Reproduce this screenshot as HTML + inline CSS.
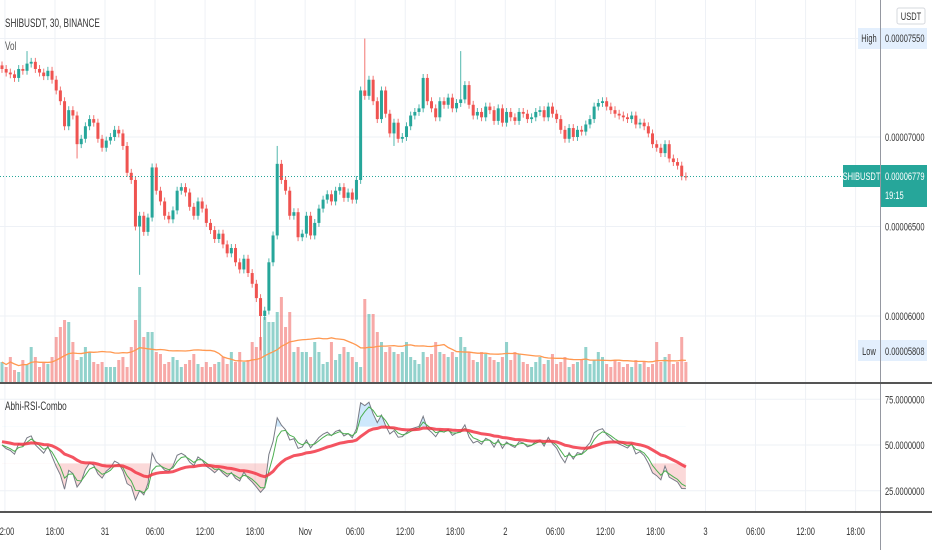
<!DOCTYPE html>
<html><head><meta charset="utf-8"><style>
body{margin:0;background:#fff;}
svg{display:block;font-family:"Liberation Sans",sans-serif;}
</style></head><body>
<svg id="chart" width="932" height="550" viewBox="0 0 932 550">
<g id="grid"></g>
<g id="vol"></g>
<g id="candles"></g>
<g id="rsi"></g>
<g id="axes"></g>
<g id="tags">
<rect x="897" y="8" width="28" height="16" rx="2" fill="#fff" stroke="#d6d8de"/>
<text class="cond" x="911" y="20" font-size="11" fill="#333" text-anchor="middle">USDT</text>
<rect x="858" y="28" width="22" height="21" fill="#e3effd"/>
<text class="cond" x="869" y="42" font-size="11" fill="#333" text-anchor="middle">High</text>
<rect x="881" y="28" width="46" height="21" fill="#e3effd"/>
<text class="cond" x="885" y="42" font-size="11" fill="#333">0.00007550</text>
<rect x="843" y="165" width="37" height="22" fill="#26a69a"/>
<text class="cond" x="861.5" y="180" font-size="11" fill="#fff" text-anchor="middle">SHIBUSDT</text>
<rect x="881" y="165" width="46" height="42" fill="#26a69a"/>
<text class="cond" x="885" y="180" font-size="11" fill="#fff">0.00006779</text>
<text class="cond" x="885" y="199" font-size="11" fill="#fff">19:15</text>
<rect x="858" y="340" width="22" height="21" fill="#e3effd"/>
<text class="cond" x="869" y="355" font-size="11" fill="#333" text-anchor="middle">Low</text>
<rect x="881" y="340" width="46" height="21" fill="#e3effd"/>
<text class="cond" x="885" y="355" font-size="11" fill="#333">0.00005808</text>
<text class="cond" x="5" y="27" font-size="12" fill="#333">SHIBUSDT, 30, BINANCE</text>
<text class="cond" x="5" y="50" font-size="12" fill="#555">Vol</text>
<text class="cond" x="5" y="410" font-size="12" fill="#333">Abhi-RSI-Combo</text>
</g>
</svg>
<script>
const closes=[7380,7360,7350,7330,7380,7370,7410,7420,7380,7360,7340,7370,
7320,7260,7200,7060,7150,7120,6960,6990,7060,7100,7080,6990,
6940,6980,7000,7040,7020,6950,6800,6760,6500,6560,6470,6550,
6830,6700,6640,6560,6540,6590,6700,6720,6690,6610,6560,6640,
6600,6520,6480,6430,6460,6400,6350,6380,6300,6260,6320,6240,
6180,6100,6000,6030,6300,6450,6850,6760,6700,6560,6580,6440,
6460,6560,6450,6520,6600,6650,6680,6640,6700,6720,6660,6690,
6650,6760,7260,7230,7320,7200,7100,7260,7130,7020,7080,6990,
7000,7060,7120,7140,7160,7330,7200,7160,7110,7200,7180,7220,
7160,7190,7210,7290,7180,7120,7140,7110,7170,7150,7090,7160,
7080,7140,7110,7090,7140,7130,7100,7110,7140,7150,7110,7170,
7130,7100,7040,6990,7050,7000,7040,7030,7070,7100,7170,7190,
7200,7170,7150,7130,7120,7110,7100,7120,7070,7080,7060,7020,
6960,6940,6910,6960,6880,6860,6840,6780,6779];
const volumes=[20,15,25,12,10,22,18,35,25,15,20,18,
25,45,55,62,60,40,22,25,35,30,20,18,
20,15,15,15,22,25,15,35,62,95,45,50,
50,30,28,18,20,25,22,15,18,22,28,18,
15,20,15,18,20,25,18,30,20,30,20,22,
40,35,45,65,60,60,70,85,55,70,30,35,
30,30,25,40,30,18,20,40,22,28,35,30,
25,20,15,83,68,68,50,40,30,35,30,28,
30,40,25,22,18,30,25,28,40,30,28,25,
30,25,45,35,30,22,20,30,28,25,22,20,
25,40,22,30,28,20,18,15,20,25,18,22,
28,18,20,25,15,18,20,22,35,18,22,30,
25,18,15,22,20,15,18,15,22,18,20,15,
18,40,20,25,28,18,20,45,20];
const wickSpikesHigh={87:7550,110:7480,6:7480,66:6950};
const wickSpikesLow={33:6230,62:5808,18:6880,94:6950};
const timeLabels=["12:00","18:00","31","06:00","12:00","18:00","Nov","06:00","12:00","18:00","2","06:00","12:00","18:00","3","06:00","12:00","18:00"];
const priceTicks=[7000,6500,6000];
const rsiTicks=[75,50,25];

const NS="http://www.w3.org/2000/svg";
function mk(tag,attrs,parent,txt){const e=document.createElementNS(NS,tag);for(const k in attrs)e.setAttribute(k,attrs[k]);if(txt!==undefined)e.textContent=txt;parent.appendChild(e);return e;}
const X=i=>2+i*4.17;
const PY=p=>137+(7000-p)*89.5/500;
const VY=v=>382-v;
const RY=v=>445-(v-50)*1.83;
const G=document.getElementById('grid'),C=document.getElementById('candles'),V=document.getElementById('vol'),R=document.getElementById('rsi'),A=document.getElementById('axes');

timeLabels.forEach((t,k)=>{const x=X(0.7+12*k);const l=mk('line',{x1:x,x2:x,y1:0,y2:512,stroke:'#eef1f6','stroke-width':1},G);
});
priceTicks.concat([7550]).forEach(p=>{const l=mk('line',{x1:0,x2:880,y1:PY(p),y2:PY(p),stroke:'#eef1f6'},G);
});
rsiTicks.forEach(v=>{const l=mk('line',{x1:0,x2:880,y1:RY(v),y2:RY(v),stroke:'#eef1f6'},G);
});

const volMA=[];
volumes.forEach((v,i)=>{const o=i?closes[i-1]:closes[0];const up=closes[i]>=o;
const r=mk('rect',{x:X(i)-1.5,y:VY(v),width:3,height:v,fill:up?'rgba(38,166,154,0.5)':'rgba(239,83,80,0.5)'},V);

const s=volumes.slice(Math.max(0,i-19),i+1);volMA.push(s.reduce((a,b)=>a+b,0)/s.length);});
const vm=mk('polyline',{points:volMA.map((v,i)=>X(i)+','+VY(v)).join(' '),fill:'none',stroke:'#ff9850','stroke-width':1.3},V);


closes.forEach((c,i)=>{const o=i?closes[i-1]:closes[0]+20;const up=c>=o;const col=up?'#26a69a':'#ef5350';
const hi=wickSpikesHigh[i]||Math.max(o,c)+22;const lo=wickSpikesLow[i]||Math.min(o,c)-22;
const w=mk('line',{x1:X(i),x2:X(i),y1:PY(hi),y2:PY(lo),stroke:col,'stroke-width':1,opacity:0.8},C);

const top=PY(Math.max(o,c)),h=Math.max(1,Math.abs(PY(o)-PY(c)));
const b=mk('rect',{x:X(i)-1.5,y:top,width:3,height:h,fill:col},C);
});
const cl=mk('line',{x1:0,x2:843,y1:PY(6779),y2:PY(6779),stroke:'#26a69a','stroke-dasharray':'1,2'},C);


let ag=20,al=20;const rsi=[];
closes.forEach((c,i)=>{const d=i?c-closes[i-1]:0;ag=(ag*13+Math.max(d,0))/14;al=(al*13+Math.max(-d,0))/14;rsi.push(100-100/(1+ag/al));});
const sm=[];let e=rsi[0];rsi.forEach(v=>{e=e+(v-e)*0.5;sm.push(e);});
const slow=[];let s2=52;rsi.forEach(v=>{s2=s2+(v-s2)*2/21;slow.push(s2);});
const defs=mk('defs',{},R);
const c1=mk('clipPath',{id:'below40'},defs);mk('rect',{x:0,y:RY(40),width:880,height:100},c1);
const c2=mk('clipPath',{id:'above60'},defs);mk('rect',{x:0,y:380,width:880,height:RY(60)-380},c2);
const pts=rsi.map((v,i)=>X(i)+','+RY(v));
const last=X(rsi.length-1);
const f1=mk('polygon',{points:pts.join(' ')+' '+last+','+RY(40)+' '+X(0)+','+RY(40),fill:'rgba(239,83,80,0.22)','clip-path':'url(#below40)'},R);

const f2=mk('polygon',{points:pts.join(' ')+' '+last+','+RY(60)+' '+X(0)+','+RY(60),fill:'rgba(33,150,243,0.22)','clip-path':'url(#above60)'},R);

const l1=mk('polyline',{points:pts.join(' '),fill:'none',stroke:'#787b86','stroke-width':1},R);

const l2=mk('polyline',{points:sm.map((v,i)=>X(i)+','+RY(v)).join(' '),fill:'none',stroke:'#4caf50','stroke-width':1},R);

const l3=mk('polyline',{points:slow.map((v,i)=>X(i)+','+RY(v)).join(' '),fill:'none',stroke:'#f23645','stroke-width':3,opacity:0.85},R);


mk('line',{x1:880.5,x2:880.5,y1:0,y2:550,stroke:'#9598a1'},A);
mk('line',{x1:0,x2:932,y1:383,y2:383,stroke:'#555','stroke-width':2},A);
mk('line',{x1:0,x2:932,y1:512,y2:512,stroke:'#555','stroke-width':2},A);
priceTicks.forEach(p=>{const t=mk('text',{x:885,y:PY(p)+4,'font-size':11,fill:'#333','class':'cond'},A,'0.0000'+p);
});
rsiTicks.forEach(v=>{const t=mk('text',{x:885,y:RY(v)+4,'font-size':11,fill:'#333','class':'cond'},A,v.toFixed(7));
});
timeLabels.forEach((lb,k)=>{const t=mk('text',{x:X(0.7+12*k),y:535,'font-size':11,fill:'#333','text-anchor':'middle','class':'cond'},A,lb);
});

document.querySelectorAll('text.cond').forEach(t=>{const w=t.getComputedTextLength();
t.setAttribute('textLength',(w*0.68).toFixed(1));t.setAttribute('lengthAdjust','spacingAndGlyphs');});
</script>
</body></html>
